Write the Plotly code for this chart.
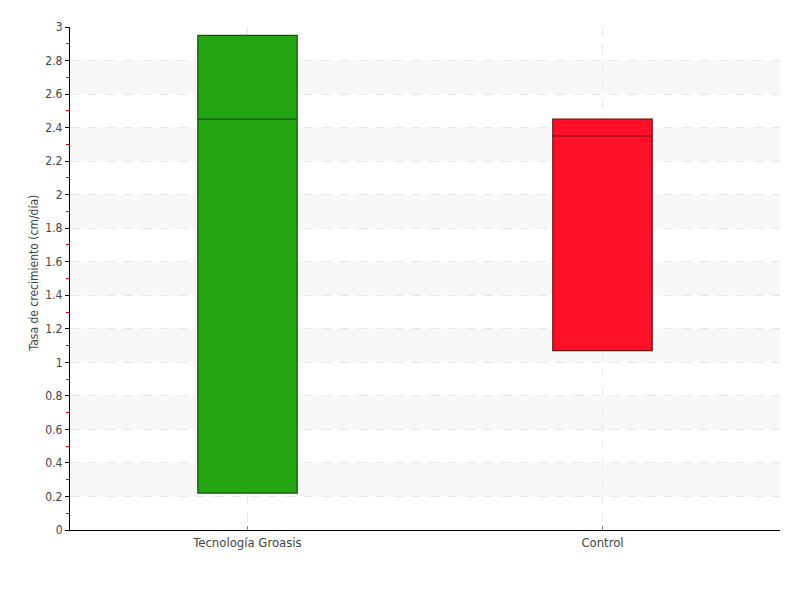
import plotly.graph_objects as go

categories = ["Tecnología Groasis", "Control"]
q1_vals = [0.22, 1.07]
median_vals = [2.45, 2.35]
q3_vals = [2.95, 2.45]
fill_colors = ["#22a511", "#ff0f28"]
line_colors = ["#1d4a16", "#6a1216"]

y_ticks = [0, 0.2, 0.4, 0.6, 0.8, 1, 1.2, 1.4, 1.6, 1.8, 2, 2.2, 2.4, 2.6, 2.8, 3]
y_tick_text = ["0", "0.2", "0.4", "0.6", "0.8", "1", "1.2", "1.4", "1.6", "1.8", "2", "2.2", "2.4", "2.6", "2.8", "3"]
y_title = "Tasa de crecimiento (cm/día)"

FONT = "Liberation Sans Narrow, DejaVu Sans Condensed, Roboto, sans-serif"

fig = go.Figure()
for i, cat in enumerate(categories):
    fig.add_trace(go.Box(
        x=[cat], q1=[q1_vals[i]], median=[median_vals[i]], q3=[q3_vals[i]],
        lowerfence=[q1_vals[i]], upperfence=[q3_vals[i]],
        fillcolor=fill_colors[i], line=dict(color=line_colors[i], width=1.2),
        width=0.28, showlegend=False, hoverinfo="skip", boxpoints=False,
    ))

shapes = []
for k in range(1, len(y_ticks) - 1, 2):
    shapes.append(dict(type="rect", xref="paper", yref="y", x0=0, x1=1,
                       y0=y_ticks[k], y1=y_ticks[k + 1],
                       fillcolor="#f8f8f8", line=dict(width=0), layer="below"))

fig.update_layout(
    width=800, height=600,
    margin=dict(l=62, r=28, t=12, b=78),
    paper_bgcolor="white", plot_bgcolor="white",
    font=dict(family=FONT, size=13, color="#444"),
    shapes=shapes,
    annotations=[dict(text=y_title, xref="paper", yref="paper", x=0, y=0.51,
                      xshift=-36, xanchor="center", yanchor="middle", textangle=-90,
                      showarrow=False, font=dict(family=FONT, size=12, color="#444"))],
    xaxis=dict(
        type="category", range=[-0.5, 1.5],
        showline=True, linecolor="black", linewidth=1.2,
        showgrid=True, gridcolor="#e8e8e8", griddash="dash", gridwidth=1,
        ticks="inside", ticklen=4, tickcolor="#888",
        tickfont=dict(family=FONT, size=13, color="#444"),
        zeroline=False,
    ),
    yaxis=dict(
        range=[0, 3], tickvals=y_ticks, ticktext=y_tick_text,
        showline=True, linecolor="black", linewidth=1.2,
        showgrid=True, gridcolor="#e8e8e8", griddash="dash", gridwidth=1,
        ticks="outside", ticklen=4, tickcolor="black",
        minor=dict(dtick=0.1, tick0=0, ticks="outside", ticklen=3, tickcolor="#e00000", tickwidth=1, showgrid=False),
        tickfont=dict(family=FONT, size=12, color="#444"),
        zeroline=False,
    ),
)

fig.write_html("out.html")
